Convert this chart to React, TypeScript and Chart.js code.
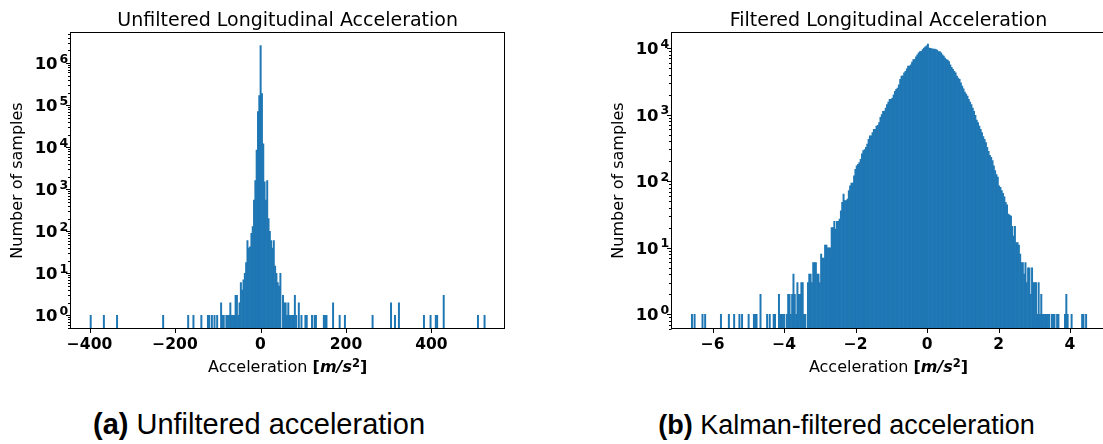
import React, { useEffect, useRef } from 'react';
import { Chart, registerables } from 'chart.js';

Chart.register(...registerables);

// ---------- text ----------
const leftTitle = 'Unfiltered Longitudinal Acceleration';
const rightTitle = 'Filtered Longitudinal Acceleration';
const yAxisTitle = 'Number of samples';
const xAxisTitleParts = ['Acceleration ', '[', 'm/s', '2', ']'];
const leftCaptionTag = '(a)';
const leftCaptionText = ' Unfiltered acceleration';
const rightCaptionTag = '(b)';
const rightCaptionText = ' Kalman-filtered acceleration';

// ---------- left histogram (unfiltered), 300 bins ----------
const leftBinStart = -398.8;
const leftBinWidth = 3.0817;
const leftCounts = [
  1, 0, 0, 0, 0, 0, 0, 0, 0, 0,
  1, 0, 0, 0, 0, 0, 0, 0, 0, 0,
  1, 0, 0, 0, 0, 0, 0, 0, 0, 0,
  0, 0, 0, 0, 0, 0, 0, 0, 0, 0,
  0, 0, 0, 0, 0, 0, 0, 0, 0, 0,
  0, 0, 0, 0, 0, 1, 0, 0, 0, 0,
  0, 0, 0, 0, 0, 0, 0, 0, 0, 0,
  0, 0, 0, 0, 1, 0, 0, 0, 1, 0,
  0, 0, 0, 0, 1, 0, 0, 0, 0, 1,
  1, 0, 1, 0, 1, 0, 1, 0, 0, 2,
  1, 1, 0, 1, 1, 1, 2, 1, 1, 1,
  3, 3, 1, 2, 6, 4, 7, 10, 18, 60,
  40, 43, 90, 130, 550, 1600, 8500, 70000, 170000, 2600000,
  190000, 12000, 1500, 550, 1600, 200, 100, 60, 40, 60,
  15, 10, 6, 5, 10, 0, 3, 2, 2, 1,
  2, 1, 1, 1, 1, 3, 1, 0, 2, 0,
  1, 0, 0, 1, 1, 0, 0, 0, 1, 0,
  1, 1, 0, 0, 0, 0, 0, 1, 1, 1,
  0, 0, 0, 0, 2, 0, 0, 0, 0, 1,
  0, 0, 0, 1, 0, 0, 0, 0, 0, 0,
  0, 0, 0, 0, 0, 0, 0, 0, 0, 0,
  0, 0, 0, 0, 1, 0, 0, 0, 0, 0,
  0, 0, 0, 0, 0, 0, 0, 0, 2, 0,
  0, 1, 0, 0, 2, 0, 0, 0, 0, 0,
  0, 0, 0, 0, 0, 0, 0, 0, 0, 0,
  0, 0, 0, 1, 0, 0, 0, 0, 1, 0,
  0, 0, 1, 1, 0, 0, 0, 0, 3, 0,
  0, 0, 0, 0, 0, 0, 0, 0, 0, 0,
  0, 0, 0, 0, 0, 0, 0, 0, 0, 0,
  0, 0, 0, 0, 1, 0, 0, 0, 0, 1,
];
const leftXTicks = [-400, -200, 0, 200, 400];
const leftYDecades = [0, 1, 2, 3, 4, 5, 6];

// ---------- right histogram (Kalman filtered), 300 bins ----------
const rightBinStart = -6.6;
const rightBinWidth = 0.0369;
const rightCounts = [
  1, 0, 1, 0, 0, 0, 0, 0, 1, 0,
  1, 0, 0, 0, 0, 0, 0, 0, 0, 0,
  0, 0, 1, 0, 0, 0, 0, 0, 1, 0,
  0, 0, 1, 0, 0, 0, 1, 0, 1, 0,
  0, 0, 0, 1, 0, 0, 0, 1, 1, 1,
  0, 0, 2, 0, 0, 0, 0, 1, 0, 1,
  0, 0, 1, 1, 0, 0, 2, 1, 1, 1,
  1, 0, 1, 2, 2, 1, 2, 4, 2, 1,
  3, 2, 2, 3, 3, 1, 1, 0, 3, 4,
  4, 3, 6, 6, 6, 4, 4, 3, 8, 7,
  7, 11, 11, 10, 10, 10, 20, 20, 25, 19,
  25, 25, 27, 36, 48, 64, 51, 51, 54, 72,
  85, 94, 94, 120, 151, 170, 180, 190, 214, 257,
  288, 300, 324, 363, 427, 479, 480, 537, 603, 603,
  676, 690, 759, 912, 1000, 1122, 1130, 1259, 1413, 1549,
  1698, 1700, 1778, 1995, 2239, 2400, 2512, 2818, 3388, 3802,
  3850, 4266, 4467, 4898, 5370, 5400, 5623, 6166, 6761, 6800,
  7413, 7943, 8511, 8913, 8950, 9550, 10000, 10470, 10800, 11500,
  10000, 9950, 9770, 9700, 9660, 9550, 9330, 8913, 8900, 8500,
  7943, 7590, 7079, 6761, 6600, 6310, 5623, 5130, 4786, 4467,
  4266, 3802, 3548, 3388, 3020, 2692, 2455, 2188, 2042, 1905,
  1698, 1549, 1413, 1259, 1122, 977, 832, 759, 676, 603,
  537, 468, 427, 380, 324, 282, 245, 229, 204, 170,
  145, 126, 115, 85, 81, 72, 66, 58, 48, 44,
  32, 31, 30, 21, 15, 21, 12, 12, 11, 8,
  6, 6, 4, 6, 3, 5, 5, 2, 5, 3,
  3, 3, 1, 3, 1, 2, 1, 1, 1, 1,
  1, 1, 0, 1, 1, 1, 0, 1, 1, 0,
  0, 0, 0, 1, 2, 1, 0, 0, 1, 0,
  0, 0, 0, 0, 0, 0, 1, 1, 0, 1,
];
const rightXTicks = [-6, -4, -2, 0, 2, 4];
const rightYDecades = [0, 1, 2, 3, 4];

// ---------- styling ----------
const BAR_COLOR = '#1f77b4';
const DV = '"DejaVu Sans", Verdana, sans-serif';
const TICK_SIZE = 15.5;
const YTEN_SIZE = 16.5;
const YSUP_SIZE = 12.5;
const SUP_SIZE = 11.5;
const LABEL_SIZE = 16;
const TITLE_SIZE = 19;

function histPoints(start: number, width: number, counts: number[]) {
  const pts: { x: number; y: number }[] = [];
  counts.forEach((c, i) => {
    if (c > 0) pts.push({ x: start + (i + 0.5) * width, y: c });
  });
  return pts;
}

function fmtX(v: number) {
  return v < 0 ? '\u2212' + Math.abs(v) : String(v);
}

type Panel = {
  title: string;
  start: number;
  width: number;
  counts: number[];
  xTicks: number[];
  yDecades: number[];
  xMin: number;
  xMax: number;
  yMin: number;
  yMax: number;
  yAxisWidth: number;
  padRight: number;
  yTitleX: number;
  yLabelGap: number;
};

function decorPlugin(p: Panel) {
  return {
    id: 'decor',
    afterDraw(chart: any) {
      const { ctx, chartArea: a } = chart;
      const xs = chart.scales.x;
      const ys = chart.scales.y;
      ctx.save();
      ctx.fillStyle = '#000';
      ctx.strokeStyle = '#000';
      ctx.lineWidth = 1;
      const L = Math.round(a.left) + 0.5;
      const R = Math.round(a.right) - 0.5;
      const T = Math.round(a.top) + 0.5;
      const B = Math.round(a.bottom) - 0.5;
      ctx.strokeRect(L, T, R - L, B - T);
      ctx.beginPath();
      for (const v of p.xTicks) {
        const px = Math.round(xs.getPixelForValue(v)) + 0.5;
        ctx.moveTo(px, B);
        ctx.lineTo(px, B + 4.5);
      }
      const lo = Math.floor(Math.log10(ys.min));
      const hi = Math.ceil(Math.log10(ys.max));
      for (let n = lo; n <= hi; n++) {
        for (let m = 1; m <= 9; m++) {
          const v = m * Math.pow(10, n);
          if (v < ys.min || v > ys.max) continue;
          const py = Math.round(ys.getPixelForValue(v)) + 0.5;
          ctx.moveTo(L, py);
          ctx.lineTo(L - (m === 1 ? 4.5 : 2.5), py);
        }
      }
      ctx.stroke();

      // y tick labels 10^n
      ctx.textBaseline = 'alphabetic';
      ctx.textAlign = 'left';
      for (const d of p.yDecades) {
        const py = ys.getPixelForValue(Math.pow(10, d));
        const sup = String(d);
        ctx.font = `bold ${YSUP_SIZE}px ${DV}`;
        const sw = ctx.measureText(sup).width;
        ctx.font = `bold ${YTEN_SIZE}px ${DV}`;
        const tw = ctx.measureText('10').width;
        const right = a.left - p.yLabelGap;
        ctx.fillText('10', right - sw - 2 - tw, py + 6);
        ctx.font = `bold ${YSUP_SIZE}px ${DV}`;
        ctx.fillText(sup, right - sw, py - 0.5);
      }

      // title
      const cx = (a.left + a.right) / 2;
      ctx.textAlign = 'center';
      ctx.font = `${TITLE_SIZE}px ${DV}`;
      ctx.fillText(p.title, cx, 25.6);

      // x axis title with mixed styles
      const parts = [
        { t: xAxisTitleParts[0], f: `${LABEL_SIZE}px ${DV}`, dy: 0 },
        { t: xAxisTitleParts[1], f: `bold ${LABEL_SIZE}px ${DV}`, dy: 0 },
        { t: xAxisTitleParts[2], f: `italic bold ${LABEL_SIZE}px ${DV}`, dy: 0 },
        { t: xAxisTitleParts[3], f: `bold ${SUP_SIZE}px ${DV}`, dy: -4.5 },
        { t: xAxisTitleParts[4], f: `bold ${LABEL_SIZE}px ${DV}`, dy: 0 },
      ];
      let total = 0;
      const widths = parts.map((q) => {
        ctx.font = q.f;
        const w = ctx.measureText(q.t).width;
        total += w;
        return w;
      });
      let x0 = cx - total / 2;
      ctx.textAlign = 'left';
      parts.forEach((q, i) => {
        ctx.font = q.f;
        ctx.fillText(q.t, x0, 371.7 + q.dy);
        x0 += widths[i];
      });

      // y axis title
      ctx.save();
      ctx.translate(p.yTitleX, (a.top + a.bottom) / 2);
      ctx.rotate(-Math.PI / 2);
      ctx.textAlign = 'center';
      ctx.font = `${LABEL_SIZE}px ${DV}`;
      ctx.fillText(yAxisTitle, 0, 4.2);
      ctx.restore();

      ctx.restore();
    },
  };
}

function HistCanvas({ p, left, width }: { p: Panel; left: number; width: number }) {
  const ref = useRef<HTMLCanvasElement | null>(null);
  useEffect(() => {
    if (!ref.current) return;
    const chart = new Chart(ref.current, {
      type: 'bar',
      data: {
        datasets: [
          {
            data: histPoints(p.start, p.width, p.counts) as any,
            backgroundColor: BAR_COLOR,
            borderWidth: 0,
            barPercentage: 1,
            categoryPercentage: 1,
            grouped: false,
          } as any,
        ],
      },
      options: {
        animation: false,
        responsive: false,
        events: [],
        layout: { padding: { left: 0, right: p.padRight, top: 32, bottom: 0 } },
        plugins: {
          legend: { display: false },
          tooltip: { enabled: false },
          title: { display: false },
        },
        scales: {
          x: {
            type: 'linear',
            min: p.xMin,
            max: p.xMax,
            offset: false,
            grid: { display: false, drawTicks: false, tickLength: 0 },
            border: { display: false },
            afterBuildTicks: (s: any) => {
              s.ticks = p.xTicks.map((v) => ({ value: v }));
            },
            afterFit: (s: any) => {
              s.height = 61;
            },
            ticks: {
              autoSkip: false,
              maxRotation: 0,
              includeBounds: false,
              padding: 6.2,
              color: '#000',
              font: { family: 'DejaVu Sans', size: TICK_SIZE, weight: 'bold' },
              callback: (v: any) => fmtX(Number(v)),
            },
          },
          y: {
            type: 'logarithmic',
            min: p.yMin,
            max: p.yMax,
            grid: { display: false, drawTicks: false },
            border: { display: false },
            ticks: { display: false },
            afterFit: (s: any) => {
              s.width = p.yAxisWidth;
            },
          },
        } as any,
      },
      plugins: [decorPlugin(p)],
    });
    return () => chart.destroy();
  }, [p]);
  return (
    <canvas
      ref={ref}
      width={width}
      height={390}
      style={{ position: 'absolute', left, top: 0, width, height: 390 }}
    />
  );
}

const leftPanel: Panel = {
  title: leftTitle,
  start: leftBinStart,
  width: leftBinWidth,
  counts: leftCounts,
  xTicks: leftXTicks,
  yDecades: leftYDecades,
  xMin: -445,
  xMax: 572,
  yMin: 0.475,
  yMax: 5.5e6,
  yAxisWidth: 70.3,
  padRight: 75,
  yTitleX: 18,
  yLabelGap: 2,
};

const rightPanel: Panel = {
  title: rightTitle,
  start: rightBinStart,
  width: rightBinWidth,
  counts: rightCounts,
  xTicks: rightXTicks,
  yDecades: rightYDecades,
  xMin: -7.16,
  xMax: 5.0,
  yMin: 0.64,
  yMax: 17500,
  yAxisWidth: 81.3,
  padRight: 4.3,
  yTitleX: 29,
  yLabelGap: 2,
};

const captionStyle: React.CSSProperties = {
  position: 'absolute',
  fontFamily: '"Liberation Sans", Arial, sans-serif',
  color: '#000',
  textAlign: 'center',
  whiteSpace: 'nowrap',
};

export default function App() {
  return (
    <div
      style={{
        position: 'absolute',
        left: 0,
        top: 0,
        width: 1103,
        height: 444,
        overflow: 'hidden',
        background: '#fff',
      }}
    >
      <HistCanvas p={leftPanel} left={0} width={580} />
      <HistCanvas p={rightPanel} left={590} width={520} />
      <div style={{ ...captionStyle, left: 0, width: 518, top: 406.5, fontSize: 29, lineHeight: '34px' }}>
        <b>{leftCaptionTag}</b>
        {leftCaptionText}
      </div>
      <div style={{ ...captionStyle, left: 590, width: 513, top: 408.7, fontSize: 27, lineHeight: '32px' }}>
        <b>{rightCaptionTag}</b>
        {rightCaptionText}
      </div>
    </div>
  );
}
